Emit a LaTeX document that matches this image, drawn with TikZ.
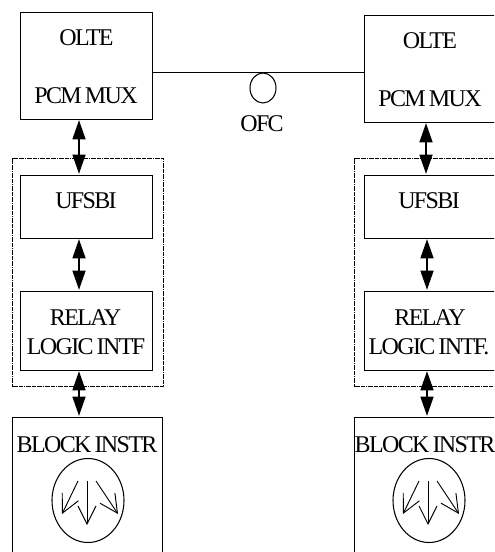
\documentclass[tikz,border=0pt]{standalone}
\usepackage{fontspec}
\setmainfont[LetterSpace=-6.8,WordSpace=0.7]{Liberation Serif}
\usetikzlibrary{arrows.meta,shapes.geometric}
\tikzset{
  x=0.75pt,y=-0.75pt,
  boxn/.style={draw,line width=1pt,rectangle,inner sep=0pt,anchor=north west},
  txt/.style={font=\fontsize{18}{20}\selectfont,inner sep=0pt,anchor=base},
  dbl/.style={line width=1.9pt,{Triangle[length=14.5pt,width=9.5pt]}-{Triangle[length=14.5pt,width=9.5pt]}},
  grp/.style={draw,line width=1.1pt,dash pattern=on 3pt off 0.5pt on 0.8pt off 0.5pt},
  barb arrow/.style={line width=0.7pt,-{Straight Barb[length=13.5pt,width=13.5pt,line width=0.7pt]}},
  lamp/.style={draw,line width=0.8pt,ellipse,inner sep=0pt,minimum width=54pt,minimum height=63pt}
}
\newcommand{\bx}[5]{\node[boxn,minimum width=#4*0.75pt,minimum height=#5*0.75pt] (#1) at (#2,#3) {};}
\begin{document}
\begin{tikzpicture}
\useasboundingbox (0,0) rectangle (494,552);
\clip (0,0) rectangle (494,552);
% groups
\node[grp,inner sep=0pt,anchor=north west,minimum width=113.25pt,minimum height=171pt] (gl) at (12,158) {};
\node[grp,inner sep=0pt,anchor=north west,minimum width=113.25pt,minimum height=171pt] (gr) at (354,158) {};
% left
\bx{ol}{20}{12}{132}{107}
\bx{ul}{20}{175}{132}{63}
\bx{rl}{20}{291}{132}{79}
\bx{bl}{12}{417}{150}{160}
% right
\bx{or}{364}{15}{140}{107}
\bx{ur}{364}{175}{140}{63}
\bx{rr}{364}{291}{140}{79}
\bx{br}{354}{417}{150}{160}
% texts
\node[txt] at (86.5,46) {OLTE};
\node[txt] at (86,104) {PCM MUX};
\node[txt] at (86,209) {UFSBI};
\node[txt] at (85.5,325) {RELAY};
\node[txt] at (86,354) {LOGIC INTF};
\node[txt] at (87,452) {BLOCK INSTR};
\node[txt] at (430,49) {OLTE};
\node[txt] at (430,107) {PCM MUX};
\node[txt] at (429,209) {UFSBI};
\node[txt] at (430,325) {RELAY};
\node[txt] at (429,354) {LOGIC INTF.};
\node[txt] at (425,452) {BLOCK INSTR};
\node[txt] (ofc) at (262,132) {OFC};
% link
\coordinate (la) at (ol.east |- 0,72.5);
\coordinate (lb) at (or.west |- 0,72.5);
\draw[line width=1pt] (la) -- (lb);
\node[draw,line width=0.8pt,ellipse,inner sep=0pt,minimum width=19.5pt,minimum height=22.5pt] (fib) at (263,88) {};
% arrows left
\coordinate (a1) at (79,120); \coordinate (a2) at (79,174);
\coordinate (a3) at (79,239); \coordinate (a4) at (79,290);
\coordinate (a5) at (79,371); \coordinate (a6) at (79,416);
\draw[dbl] (a1) -- (a2);
\draw[dbl] (a3) -- (a4);
\draw[dbl] (a5) -- (a6);
% arrows right
\coordinate (b1) at (426,123); \coordinate (b2) at (426,174);
\coordinate (b3) at (427,239); \coordinate (b4) at (427,290);
\coordinate (b5) at (427,371); \coordinate (b6) at (427,416);
\draw[dbl] (b1) -- (b2);
\draw[dbl] (b3) -- (b4);
\draw[dbl] (b5) -- (b6);
% lamps
\foreach \n/\c in {ll/88,lr/429}{
  \node[lamp] (\n) at (\c,500.5) {};
  \coordinate (\n a) at (\c-10,481);
  \coordinate (\n b) at (\c-26,514);
  \coordinate (\n c) at (\c-1,481);
  \coordinate (\n d) at (\c-1,525);
  \coordinate (\n e) at (\c+8,481);
  \coordinate (\n f) at (\c+30,514);
  \draw[barb arrow] (\n a) -- (\n b);
  \draw[barb arrow] (\n c) -- (\n d);
  \draw[barb arrow] (\n e) -- (\n f);
}
\end{tikzpicture}
\end{document}
